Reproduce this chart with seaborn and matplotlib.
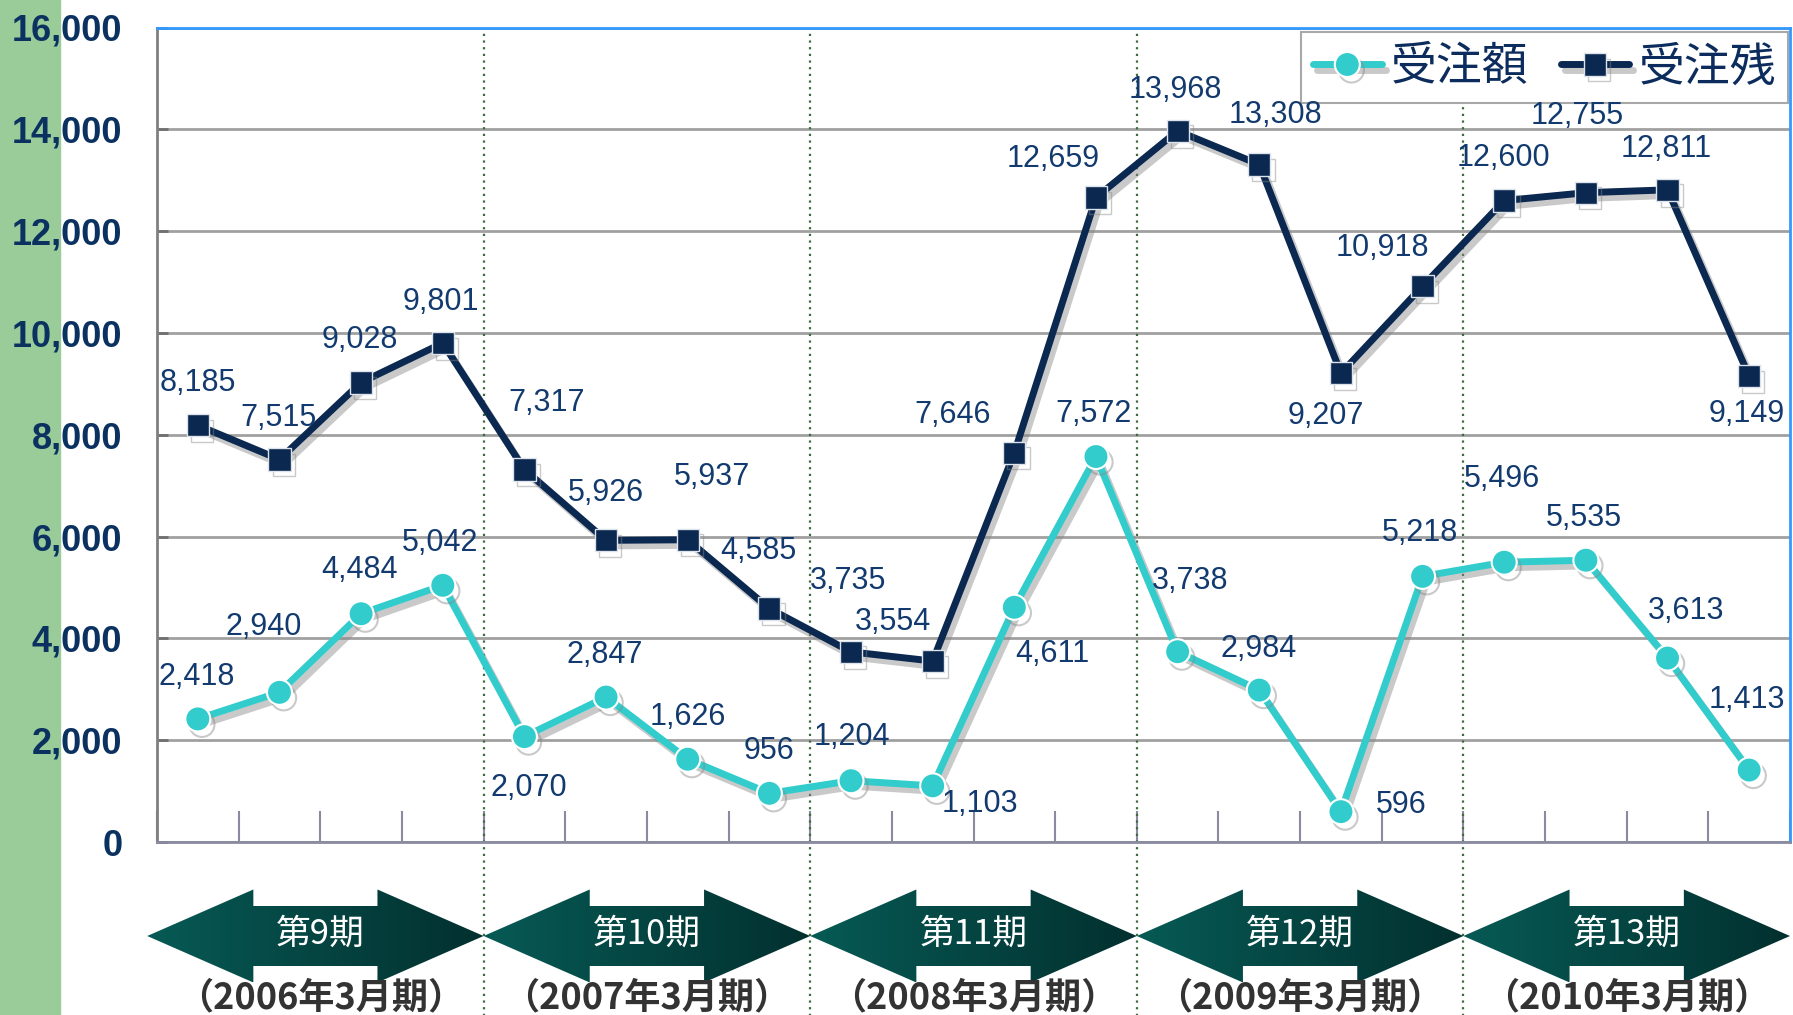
import numpy as np
import pandas as pd
import matplotlib
matplotlib.use('Agg')
import matplotlib.pyplot as plt
import matplotlib.patheffects as pe
from matplotlib.patches import Polygon, Rectangle
import seaborn as sns

# データ（四半期ごと、単位：百万円）
quarters = list(range(20))
juchu_gaku = [2418, 2940, 4484, 5042, 2070, 2847, 1626, 956, 1204, 1103,
              4611, 7572, 3738, 2984, 596, 5218, 5496, 5535, 3613, 1413]
juchu_zan = [8185, 7515, 9028, 9801, 7317, 5926, 5937, 4585, 3735, 3554,
             7646, 12659, 13968, 13308, 9207, 10918, 12600, 12755, 12811, 9149]
series_names = ['受注額', '受注残']
periods = ['第9期', '第10期', '第11期', '第12期', '第13期']
fiscal_years = ['（2006年3月期）', '（2007年3月期）', '（2008年3月期）',
                '（2009年3月期）', '（2010年3月期）']
y_ticks = list(range(0, 16001, 2000))

# ラベル位置の調整（px, 右・下が正）
gaku_offsets = [(-1, -37), (-14, -57), (-1, -38), (-2, -37), (4, 45), (-1, -37), (0, -37),
                (0, -37), (1, -38), (41, 16), (33, 41), (-2, -37), (11, -62), (-1, -36),
                (53, -6), (-2, -38), (-2, -73), (-2, -37), (16, -41), (-2, -61)]
zan_offsets = [(0, -37), (-1, -36), (-1, -37), (-2, -36), (19, -58), (0, -41), (21, -55),
               (-10, -50), (-3, -62), (-35, -34), (-54, -33), (-37, -34), (-2, -36), (14, -43),
               (-13, 37), (-35, -33), (-1, -37), (-8, -67), (-1, -36), (-2, 33)]

df = pd.DataFrame({'quarter': quarters, series_names[0]: juchu_gaku, series_names[1]: juchu_zan})

sns.set_theme(style='white')
plt.rcParams['font.family'] = ['Liberation Sans', 'Noto Sans CJK JP']

C_GAKU = '#33cccc'
C_ZAN = '#0a2850'
C_LABEL = '#123a6e'

W, H = 1793, 1015
fig = plt.figure(figsize=(W / 100, H / 100), dpi=100)
fig.patches.append(Rectangle((0, 0), 60 / W, 1, transform=fig.transFigure,
                             color='#99cc99', zorder=-5))

L, R, T, B = 157 / W, 1790 / W, 1 - 27.5 / H, 1 - 842 / H
ax = fig.add_axes([L, B, R - L, T - B])
ax.set_facecolor('white')

shadow = [pe.SimpleLineShadow(offset=(3, -4), shadow_color='#888888', alpha=0.45), pe.Normal()]
sns.lineplot(data=df, x='quarter', y=series_names[0], ax=ax, color=C_GAKU, lw=5,
             marker='o', markersize=18, markeredgecolor='white', markeredgewidth=1.5,
             label=series_names[0], path_effects=shadow, zorder=4)
sns.lineplot(data=df, x='quarter', y=series_names[1], ax=ax, color=C_ZAN, lw=5,
             marker='s', markersize=16, markeredgecolor='#dde3ea', markeredgewidth=1,
             label=series_names[1], path_effects=shadow, zorder=4)

sc = 1793 / 1568
for vals, offs in ((juchu_gaku, gaku_offsets), (juchu_zan, zan_offsets)):
    for q, v, (dx, dy) in zip(quarters, vals, offs):
        ax.annotate(f'{v:,}', (q, v), xytext=(dx * sc, -dy * sc), textcoords='offset pixels',
                    ha='center', va='center', fontsize=22, color=C_LABEL, zorder=6)

ax.set_xlim(-0.5, 19.5)
ax.set_ylim(0, 16000)
ax.set_xlabel('')
ax.set_ylabel('')
ax.set_yticks(y_ticks)
ax.set_yticklabels([f'{t:,}' for t in y_ticks], fontsize=26, fontweight='bold', color='#0b3160')
ax.set_xticks(np.arange(-0.5, 19.6, 1))
ax.set_xticklabels([])
ax.tick_params(axis='x', direction='in', length=22, width=1.5, color='#8a8aa0', bottom=True)
ax.tick_params(axis='y', direction='in', length=8, width=2, color='#707070', left=True, pad=25)
ax.yaxis.grid(True, color='#a0a0a0', lw=2)
ax.xaxis.grid(False)
for side, col in (('left', '#808080'), ('bottom', '#8a8aa0'), ('top', '#3399ff'), ('right', '#3399ff')):
    ax.spines[side].set_color(col)
    ax.spines[side].set_linewidth(2)

# 期の区切り線
for b in (3.5, 7.5, 11.5, 15.5):
    ax.axvline(b, ymin=-0.23, ymax=0.994, clip_on=False, color='#3d6b3d', ls=(0, (1, 2)), lw=1.6, zorder=1)

leg = ax.legend(loc='upper right', bbox_to_anchor=(0.9985, 0.995), ncol=2,
                prop={'family': 'Noto Sans CJK JP', 'size': 33},
                frameon=True, fancybox=False, edgecolor='#a8a8a8', framealpha=1, borderpad=0.25,
                handlelength=1.5, handletextpad=0.2, columnspacing=0.7, borderaxespad=0)
leg.get_frame().set_linewidth(1.5)
for t in leg.get_texts():
    t.set_color('#0b2c5c')

# 下部の期矢印
ax2 = fig.add_axes([L, 0, R - L, 1 - 860 / H])
ax2.axis('off')
ax2.patch.set_visible(False)
cy, hh, sh, hl = 936, 46.5, 30, 1.3
grad = np.linspace(0, 1, 256).reshape(1, -1)
cmap = matplotlib.colors.LinearSegmentedColormap.from_list('arr', ['#075a55', '#02302f'])
for k, (p, fy) in enumerate(zip(periods, fiscal_years)):
    x0 = -0.5 + 4 * k - (0.12 if k == 0 else 0)
    x1 = 3.5 + 4 * k
    pts = [(x0, cy), (x0 + hl, cy - hh), (x0 + hl, cy - sh), (x1 - hl, cy - sh), (x1 - hl, cy - hh),
           (x1, cy), (x1 - hl, cy + hh), (x1 - hl, cy + sh), (x0 + hl, cy + sh), (x0 + hl, cy + hh)]
    poly = Polygon(pts, closed=True, facecolor='none', edgecolor='none')
    ax2.add_patch(poly)
    im = ax2.imshow(grad, cmap=cmap, aspect='auto', extent=(x0, x1, cy + hh, cy - hh), zorder=2)
    im.set_clip_box(fig.bbox)
    im.set_clip_path(poly)
    ax2.text(1.5 + 4 * k, cy - 2, p, ha='center', va='center', color='white', fontsize=25,
             family='Noto Sans CJK JP', zorder=3)
    ax2.text(1.5 + 4 * k, 998, fy, ha='center', va='center', color='#333333', fontsize=26,
             fontweight='bold', family='Noto Sans CJK JP', clip_on=False, zorder=3)
ax2.set_xlim(-0.5, 19.5)
ax2.set_ylim(H, 860)

fig.savefig('out.png', dpi=100)
